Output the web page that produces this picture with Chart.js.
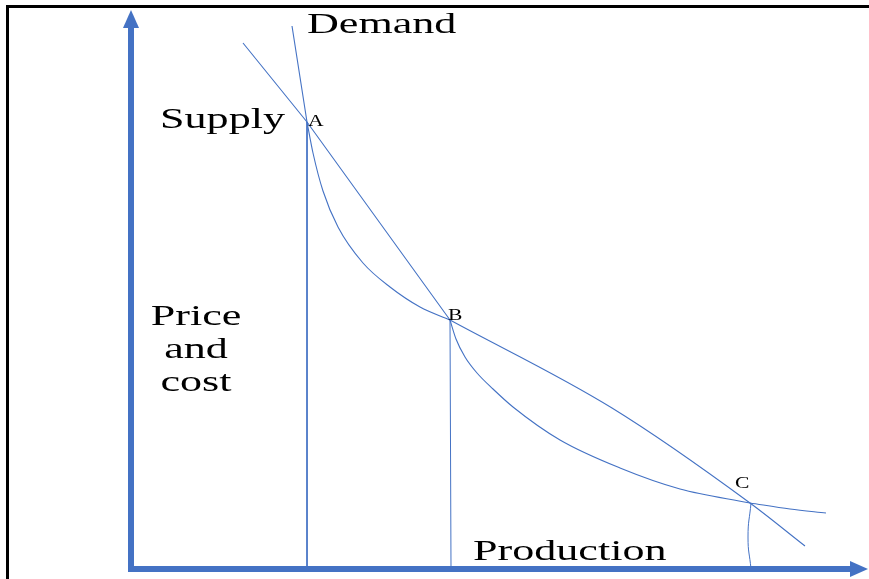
<!DOCTYPE html>
<html>
<head>
<meta charset="utf-8">
<script src="https://cdn.jsdelivr.net/npm/chart.js@4"></script>
<style>
	body { margin: 0; background: #fff; }
	#wrap { position: relative; width: 869px; height: 579px; }
</style>
</head>
<body>
<div id="wrap"><canvas id="econChart" width="869" height="579"></canvas></div>
<script>
// Data in chart units (production, price)
const supplyUpper = [[11.2, 52.6], [17.6, 44.7], [31.9, 24.9]];
const supplyLower = [[31.9, 24.9], [48.1, 16.1], [61.9, 6.6], [67.4, 2.3]];

const demandTop = [[16.1, 54.3], [17.6, 44.7]];
const demandAB = [[17.6, 44.7], [18.2, 41.6], [19.2, 37.8], [20.7, 34.2], [23.2, 30.6], [25.9, 28.2], [28.9, 26.2], [31.9, 24.9]];
const demandBC = [[31.9, 24.9], [32.5, 23.0], [33.4, 21.2], [34.6, 19.6], [36.2, 18.0], [38.2, 16.2], [42.9, 12.9], [48.9, 10.1], [54.9, 8.0], [61.9, 6.6]];
const demandEnd = [[61.9, 6.6], [65.9, 6.0], [69.5, 5.6]];

const dropA = [[17.6, 44.7], [17.6, 0]];
const dropB = [[31.9, 24.9], [32.0, 0]];
const dropC = [[62.0, 6.6], [61.7, 3.2], [62.0, 0]];

const labelTexts = ['Demand', 'Supply', 'Price', 'and', 'cost', 'Production', 'A', 'B', 'C'];
const labelX = [17.6, 2.9, 6.5, 6.5, 6.5, 34.2, 17.7, 31.7, 60.4];
const labelY = [53.6, 44.1, 24.4, 21.1, 17.8, 0.9, 44.3, 24.9, 8.1];

const axisTop = 55.9;
const axisRight = 73.7;

const blue = '#4472C4';

function toPoints(arr) {
	return arr.map((p) => ({ x: p[0], y: p[1] }));
}

// mode: 'straight', 'monotone' or a tension number
function curve(arr, width, mode) {
	return {
		data: toPoints(arr),
		borderColor: blue,
		borderWidth: width,
		pointRadius: 0,
		cubicInterpolationMode: mode === 'monotone' ? 'monotone' : 'default',
		tension: typeof mode === 'number' ? mode : 0,
		fill: false,
	};
}

// frame, axes with arrows and text labels
const decor = {
	id: 'decor',
	beforeDatasetsDraw(chart) {
		const ctx = chart.ctx;
		const xs = chart.scales.x;
		const ys = chart.scales.y;
		ctx.save();
		ctx.strokeStyle = '#000';
		ctx.lineWidth = 3;
		ctx.beginPath();
		ctx.moveTo(7.5, 579);
		ctx.lineTo(7.5, 6.5);
		ctx.lineTo(869, 6.5);
		ctx.stroke();

		const ox = xs.getPixelForValue(0);
		const oy = ys.getPixelForValue(0);
		const ty = ys.getPixelForValue(axisTop);
		const rx = xs.getPixelForValue(axisRight);
		ctx.strokeStyle = blue;
		ctx.fillStyle = blue;
		ctx.lineWidth = 6;
		ctx.lineCap = 'round';
		ctx.beginPath();
		ctx.moveTo(ox, ty + 16);
		ctx.lineTo(ox, oy);
		ctx.lineTo(rx - 16, oy);
		ctx.stroke();
		ctx.beginPath();
		ctx.moveTo(ox, ty);
		ctx.lineTo(ox - 8, ty + 18);
		ctx.lineTo(ox + 8, ty + 18);
		ctx.closePath();
		ctx.fill();
		ctx.beginPath();
		ctx.moveTo(rx, oy);
		ctx.lineTo(rx - 18, oy - 8);
		ctx.lineTo(rx - 18, oy + 8);
		ctx.closePath();
		ctx.fill();
		ctx.restore();
	},
	afterDraw(chart) {
		const ctx = chart.ctx;
		const xs = chart.scales.x;
		const ys = chart.scales.y;
		ctx.save();
		ctx.fillStyle = '#000';
		labelTexts.forEach((t, i) => {
			const small = t.length === 1;
			const centred = i >= 2 && i <= 4;
			const sx = small ? 1.35 : 1.47;
			ctx.font = (small ? 16 : 30) + 'px "Liberation Serif", "Times New Roman", serif';
			ctx.textAlign = centred ? 'center' : 'left';
			ctx.textBaseline = 'alphabetic';
			ctx.save();
			ctx.translate(xs.getPixelForValue(labelX[i]), ys.getPixelForValue(labelY[i]));
			ctx.scale(sx, 1);
			ctx.fillText(t, 0, 0);
			ctx.restore();
		});
		ctx.restore();
	},
};

new Chart(document.getElementById('econChart').getContext('2d'), {
	type: 'line',
	data: {
		datasets: [
			curve(supplyUpper, 1.1, 'straight'),
			curve(supplyLower, 1.1, 'monotone'),
			curve(demandTop, 1.1, 'straight'),
			curve(demandAB, 1.1, 'monotone'),
			curve(demandBC, 1.1, 'monotone'),
			curve(demandEnd, 1.1, 'monotone'),
			curve(dropA, 1, 'straight'),
			curve(dropB, 1, 'straight'),
			curve(dropC, 1, 0.5),
		],
	},
	options: {
		responsive: false,
		animation: false,
		devicePixelRatio: 1,
		layout: { padding: 0 },
		plugins: {
			legend: { display: false },
			tooltip: { enabled: false },
		},
		scales: {
			x: { type: 'linear', min: -13.1, max: 73.8, display: false },
			y: { type: 'linear', min: -1.0, max: 56.9, display: false },
		},
	},
	plugins: [decor],
});
</script>
</body>
</html>
